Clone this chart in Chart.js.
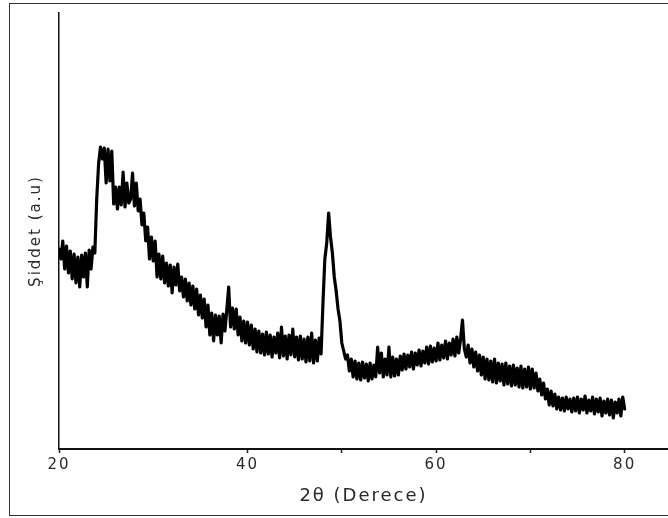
<!DOCTYPE html>
<html><head><meta charset="utf-8">
<script src="https://cdn.jsdelivr.net/npm/chart.js@4"></script>
<style>
html,body{margin:0;padding:0;background:#fff;overflow:hidden;}
#wrap{position:relative;width:668px;height:518px;overflow:hidden;}
#frame{position:absolute;left:9px;top:3px;width:700px;height:511px;border:1px solid #333;pointer-events:none;}
canvas{position:absolute;left:0;top:0;}
</style></head><body>
<div id="wrap"><canvas id="c" width="668" height="518"></canvas><div id="frame"></div></div>
<script>
// 2θ scan grid (degrees)
const twoThetaStart = 20.0;
const twoThetaStep = 0.2;
// Intensity (a.u.), one value per 0.2° from 20.0° to 80.0°
const intensity = [
  200,190,208,180,203,176,198,170,195,166,192,162,194,172,196,162,199,180,202,196,250,285,302,290,301,
  266,300,268,298,245,262,240,262,244,277,242,266,246,250,276,243,266,238,250,224,236,208,222,190,212,
  188,208,172,195,170,193,166,186,163,184,156,182,164,185,158,172,152,170,148,166,144,163,140,160,134,
  154,131,150,122,144,114,136,108,134,114,133,106,135,118,139,162,122,141,120,140,114,132,108,128,106,
  127,104,124,100,120,97,118,96,115,94,117,95,114,92,112,96,116,91,122,93,113,90,114,94,120,
  92,112,89,113,90,110,87,112,88,116,86,109,88,111,95,146,190,206,236,212,196,172,158,140,128,
  106,98,90,94,78,90,72,88,70,86,69,87,71,85,68,86,70,84,72,102,76,96,72,90,74,
  102,72,92,73,90,74,93,79,95,80,94,82,97,80,96,84,99,83,98,86,102,85,103,87,101,
  88,106,89,104,91,108,90,106,94,110,93,112,96,110,129,100,92,104,86,100,82,97,78,94,74,
  92,70,90,69,88,67,90,66,86,68,85,64,86,65,83,63,84,64,81,62,83,61,80,62,82,
  60,80,61,76,58,70,54,66,50,60,44,58,43,55,40,52,39,51,38,52,40,50,37,51,38,
  52,36,50,39,53,36,49,38,52,35,50,37,51,33,48,36,50,34,49,31,47,36,50,33,52,
  40
];
const majorTicks = [20, 40, 60, 80];
const minorTicks = [50, 70];
const xRange = [20, 84.6];
const yRange = [0, 436];
const xTitle = '2θ (Derece)';
const yTitle = 'Şiddet (a.u)';

const points = intensity.map((v, i) => ({ x: +(twoThetaStart + i * twoThetaStep).toFixed(1), y: v }));
const allTicks = majorTicks.concat(minorTicks).sort((a, b) => a - b);
const FONT = 'DejaVu Sans';

new Chart(document.getElementById('c').getContext('2d'), {
  type: 'line',
  data: { datasets: [{ data: points, borderColor: '#000', borderWidth: 3.2, borderJoinStyle: 'round',
    borderCapStyle: 'round', pointRadius: 0, tension: 0, fill: false }] },
  options: {
    responsive: false, animation: false, devicePixelRatio: 1,
    layout: { padding: { left: 0, top: 13, right: 0, bottom: 0 } },
    plugins: { legend: { display: false }, tooltip: { enabled: false } },
    scales: {
      x: {
        type: 'linear', min: xRange[0], max: xRange[1], position: 'bottom',
        afterBuildTicks: s => { s.ticks = allTicks.map(v => ({ value: v })); },
        afterFit: s => { s.height = 69; },
        ticks: { autoSkip: false, maxRotation: 0, padding: 3, color: '#2a2a2a',
          font: { family: FONT, size: 15 },
          callback: v => majorTicks.includes(v) ? String(v) : '' },
        grid: { drawOnChartArea: false, drawTicks: true, tickLength: 4, tickColor: '#222', tickWidth: 1.5 },
        border: { display: true, color: '#111', width: 2 },
        title: { display: true, text: xTitle, color: '#2a2a2a',
          font: { family: FONT, size: 18 }, padding: { top: 0, bottom: 11 } }
      },
      y: {
        type: 'linear', min: yRange[0], max: yRange[1],
        afterFit: s => { s.width = 59; },
        ticks: { display: false },
        grid: { drawOnChartArea: false, drawTicks: false },
        border: { display: true, color: '#111', width: 1.5 },
        title: { display: true, text: yTitle, color: '#2a2a2a',
          font: { family: FONT, size: 15 }, padding: { top: 27, bottom: 0 } }
      }
    }
  },
  plugins: [{ id: 'spacing', beforeDraw(chart) {
    chart.ctx.letterSpacing = '2px';
  } }]
});
</script>
</body></html>
